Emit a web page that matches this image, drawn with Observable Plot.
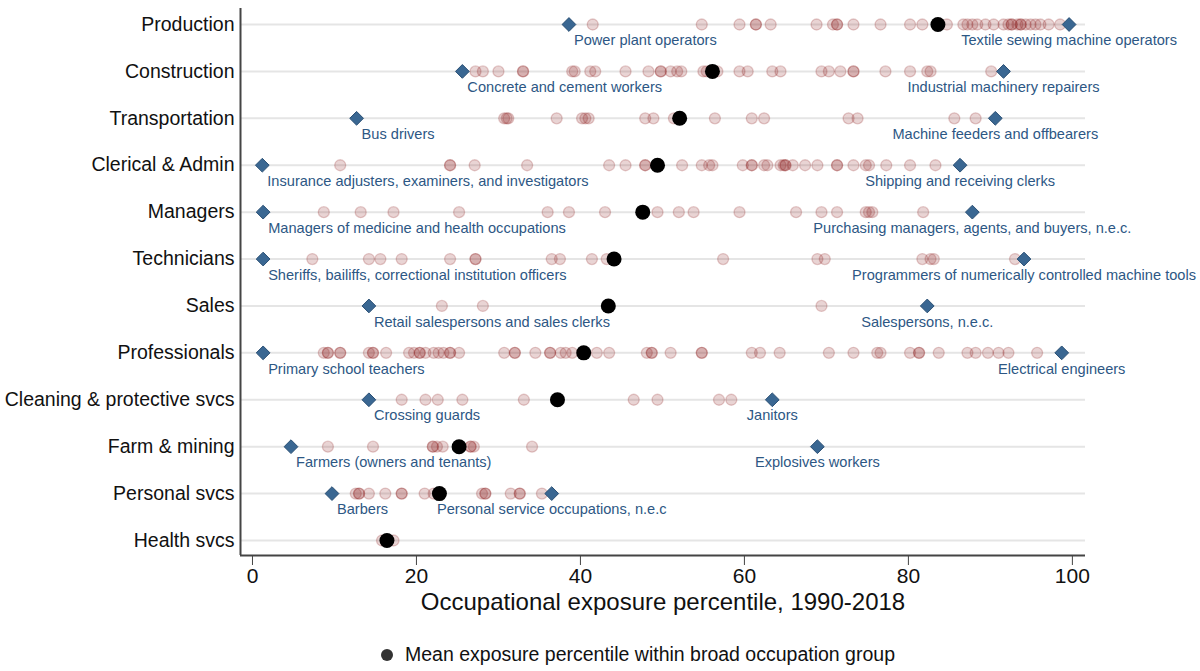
<!DOCTYPE html>
<html><head><meta charset="utf-8">
<script src="https://cdn.jsdelivr.net/npm/d3@7"></script>
<script src="https://cdn.jsdelivr.net/npm/@observablehq/plot@0.6"></script>
<style>
body{margin:0;background:#fff;font-family:"Liberation Sans",Arial,sans-serif;}
#chart svg{display:block;}
#legend{position:relative;width:1200px;height:46px;}
#legend .dot{position:absolute;left:381px;top:24px;width:12px;height:12px;border-radius:50%;background:#333;}
#legend .lbl{position:absolute;left:405px;top:18px;font-size:19.5px;color:#111;white-space:nowrap;}
</style></head>
<body>
<div id="chart"></div>
<div id="legend"><span class="dot"></span><span class="lbl">Mean exposure percentile within broad occupation group</span></div>
<script>
const categories = ["Production","Construction","Transportation","Clerical & Admin","Managers","Technicians","Sales","Professionals","Cleaning & protective svcs","Farm & mining","Personal svcs","Health svcs"];
const xTicks = [0,20,40,60,80,100];
const xTitle = "Occupational exposure percentile, 1990-2018";

const production = [41.5,54.8,59.4,61.4,61.4,63.2,68.8,70.8,71.3,71.3,73.3,76.6,80.2,81.7,84.7,86.7,87.2,87.8,88.4,89.4,90.4,91.6,92.2,92.6,92.6,93.3,93.7,93.7,94.3,94.9,95.5,96.1,97.1,98.5];
const construction = [27.2,28.1,30.0,33.0,33.0,39.0,39.3,41.2,41.8,45.5,48.3,49.8,49.8,51.0,51.8,52.3,55.0,55.4,56.7,59.4,60.4,63.4,64.4,69.4,70.3,71.7,73.3,73.3,77.2,80.2,82.3,82.7,90.1];
const transportation = [30.7,31.0,31.2,37.1,40.2,40.6,41.0,47.9,48.9,51.4,56.4,60.9,62.4,72.7,73.8,85.6,88.2];
const clerical = [10.7,24.1,24.1,27.1,33.5,43.5,45.5,47.9,47.9,52.4,54.8,55.7,56.1,59.8,60.9,60.9,62.4,62.8,64.4,64.8,65.0,65.0,65.9,67.4,68.9,71.3,71.3,73.3,74.8,75.2,77.3,80.2,83.3];
const managers = [8.7,13.2,17.2,25.2,36.0,38.6,43.0,49.4,52.0,53.8,59.4,66.3,69.4,71.3,74.8,75.2,75.6,81.8];
const technicians = [7.3,14.2,15.6,18.2,24.1,27.2,27.2,36.5,37.5,41.4,43.2,57.4,68.9,69.8,81.7,82.7,83.1,93.0];
const sales = [23.1,28.1,69.4];
const professionals = [8.7,9.2,9.2,10.7,10.7,14.2,14.7,14.7,16.3,19.1,19.7,20.4,20.4,21.1,22.1,22.7,23.3,24.1,24.1,25.2,30.7,32.0,32.0,34.5,36.3,36.3,37.6,38.2,39.0,42.0,43.5,48.1,48.7,48.7,51.0,54.8,54.8,60.9,61.9,64.3,70.3,73.3,76.2,76.6,80.2,81.3,81.3,83.7,87.2,88.2,89.7,91.0,92.2,95.7];
const cleaning = [18.2,21.1,22.6,25.6,33.1,46.5,49.4,56.9,58.4];
const farm = [9.2,14.7,22.0,22.0,22.5,23.2,26.6,26.6,27.0,34.1];
const personal = [12.6,13.0,13.0,14.2,16.2,18.2,18.2,21.0,22.1,28.0,28.4,28.4,31.5,32.6,32.6,35.3];
const health = [15.8,17.2];

const means = [83.6,56.1,52.1,49.4,47.6,44.1,43.4,40.4,37.2,25.2,22.8,16.4];

const minNames = ["Power plant operators","Concrete and cement workers","Bus drivers","Insurance adjusters, examiners, and investigators","Managers of medicine and health occupations","Sheriffs, bailiffs, correctional institution officers","Retail salespersons and sales clerks","Primary school teachers","Crossing guards","Farmers (owners and tenants)","Barbers",null];
const minValues = [38.6,25.6,12.7,1.2,1.3,1.3,14.2,1.3,14.2,4.7,9.7,null];
const maxNames = ["Textile sewing machine operators","Industrial machinery repairers","Machine feeders and offbearers","Shipping and receiving clerks","Purchasing managers, agents, and buyers, n.e.c.","Programmers of numerically controlled machine tools","Salespersons, n.e.c.","Electrical engineers","Janitors","Explosives workers","Personal service occupations, n.e.c",null];
const maxValues = [99.6,91.6,90.6,86.3,87.8,94.1,82.3,98.7,63.4,68.9,36.5,null];

const groups = [production,construction,transportation,clerical,managers,technicians,sales,professionals,cleaning,farm,personal,health];
const points = groups.flatMap((vals, i) => vals.map(v => ({group: categories[i], value: v})));
const meanRows = categories.map((c, i) => ({group: c, value: means[i]}));
const minRows = categories.map((c, i) => ({group: c, value: minValues[i], name: minNames[i]})).filter(d => d.name);
const maxRows = categories.map((c, i) => ({group: c, value: maxValues[i], name: maxNames[i]})).filter(d => d.name);

const xMin = -1.46, xMax = 101.6;
const labelColor = "#2d5784";

const chart = Plot.plot({
  width: 1200, height: 625,
  marginLeft: 240, marginRight: 115, marginTop: 8, marginBottom: 70,
  style: {fontFamily: "Liberation Sans, Arial, sans-serif", background: "white", overflow: "visible", color: "#111"},
  x: {domain: [xMin, xMax]},
  y: {type: "point", domain: categories, range: [24, 540], padding: 0, round: false},
  marks: [
    Plot.ruleY(categories, {stroke: "#e5e5e5", strokeWidth: 2}),
    Plot.ruleX([xMin], {stroke: "#444", strokeWidth: 2}),
    Plot.ruleY([categories[categories.length - 1]], {dy: 15, stroke: "#444", strokeWidth: 2}),
    Plot.axisX(xTicks, {tickSize: 10, tickPadding: 3, fontSize: 21, label: null, stroke: "#444"}),
    Plot.axisY({tickSize: 0, tickPadding: 6, fontSize: 19.5, label: null}),
    Plot.text([xTitle], {frameAnchor: "bottom", dy: 54, fontSize: 24, fill: "#111"}),
    Plot.dot(points, {x: "value", y: "group", r: 5.5, fill: "#8b1a1a", fillOpacity: 0.19, stroke: "#8b1a1a", strokeOpacity: 0.22, strokeWidth: 1.3}),
    Plot.dot(meanRows, {x: "value", y: "group", r: 7.5, fill: "black"}),
    Plot.dot(minRows, {x: "value", y: "group", symbol: "diamond2", r: 6.2, fill: "#3a6792", stroke: "#2b5075", strokeWidth: 1}),
    Plot.dot(maxRows, {x: "value", y: "group", symbol: "diamond2", r: 6.2, fill: "#3a6792", stroke: "#2b5075", strokeWidth: 1}),
    Plot.text(minRows, {x: "value", y: "group", text: "name", textAnchor: "start", dx: 5, dy: 16, fontSize: 14.6, fill: labelColor}),
    Plot.text(maxRows, {x: "value", y: "group", text: "name", textAnchor: "middle", dy: 16, fontSize: 14.6, fill: labelColor})
  ]
});
document.getElementById("chart").appendChild(chart);
</script>
</body></html>
